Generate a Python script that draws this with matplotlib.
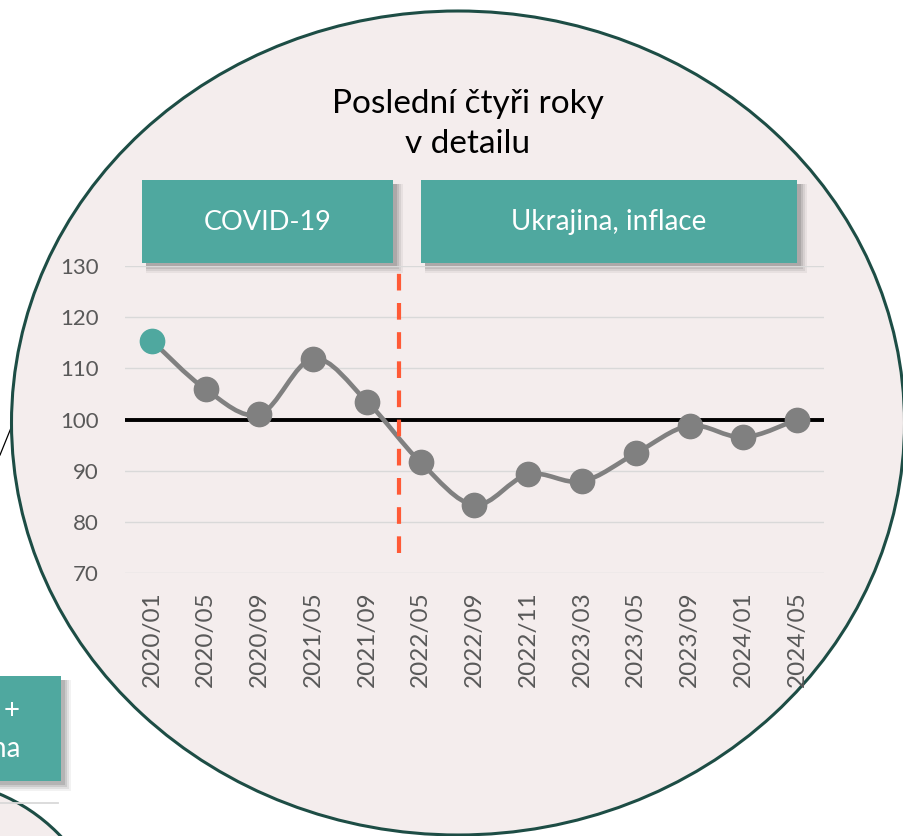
import matplotlib
matplotlib.use("Agg")
import matplotlib.pyplot as plt
from matplotlib.patches import Ellipse, Rectangle, PathPatch, Circle
from matplotlib.path import Path
import numpy as np

plt.rcParams['font.family'] = ['Lato', 'DejaVu Sans']

# ---- data ----
categories = ["2020/01", "2020/05", "2020/09", "2021/05", "2021/09", "2022/05",
              "2022/09", "2022/11", "2023/03", "2023/05", "2023/09", "2024/01", "2024/05"]
values = [115.4, 105.9, 101.0, 111.9, 103.5, 91.6, 83.3, 89.3, 87.9, 93.4, 98.8, 96.5, 100.0]
y_ticks = [70, 80, 90, 100, 110, 120, 130]
reference_level = 100
split_position = 4.6          # between 2021/09 and 2022/05
split_bottom = 74
title_text = "Poslední čtyři roky\nv detailu"
phase_labels = ["COVID-19", "Ukrajina, inflace"]

W, H = 904, 836
fig = plt.figure(figsize=(W / 100, H / 100), dpi=100)
fig.patch.set_facecolor("white")

PINK = "#F4EDED"
EDGE = "#1D4D45"
TEAL = "#4FA89F"
GRAY_TXT = "#595959"

# background axes in pixel coordinates
bg = fig.add_axes([0, 0, 1, 1])
bg.set_xlim(0, W)
bg.set_ylim(H, 0)
bg.axis("off")

# connector line (under ellipse)
bg.plot([0, 13], [455, 423], color="black", lw=0.9, zorder=1)

# small partial circle bottom-left
bg.add_patch(Circle((-70, 960), 180, facecolor=PINK, edgecolor=EDGE, lw=2.2, zorder=1))
bg.plot([0, 58], [803, 803], color="#D9D9D9", lw=1.3, zorder=2)

# main ellipse
bg.add_patch(Ellipse((458, 423), 893, 824, facecolor=PINK, edgecolor=EDGE, lw=2.2, zorder=2))


def shadow_box(x0, y0, x1, y1, z=3):
    for i, a in enumerate([0.05, 0.07, 0.09, 0.11]):
        off = 5 - i
        grow = 3 - i
        bg.add_patch(Rectangle((x0 + off - grow + 2, y0 + off - grow + 2),
                               (x1 - x0) + 2 * grow, (y1 - y0) + 2 * grow,
                               facecolor="black", edgecolor="none", alpha=a, zorder=z))
    bg.add_patch(Rectangle((x0, y0), x1 - x0, y1 - y0, facecolor=TEAL,
                           edgecolor="none", zorder=z + 0.5))


# partial teal box at left
shadow_box(-20, 676, 61, 781)
bg.text(12, 711, "+", color="white", fontsize=20, ha="center", va="center", zorder=5)
bg.text(20, 749, "na", color="white", fontsize=20, ha="right", va="center", zorder=5)

# phase boxes
shadow_box(142, 180, 393, 263)
shadow_box(421, 180, 797, 263)
bg.text((142 + 393) / 2, 222, phase_labels[0], color="white", fontsize=19.5,
        ha="center", va="center", zorder=5)
bg.text((421 + 797) / 2, 222, phase_labels[1], color="white", fontsize=20,
        ha="center", va="center", zorder=5)

# title
bg.text(468, 124, title_text, color="black", fontsize=24, ha="center", va="center",
        linespacing=1.42, zorder=5)

# ---- chart axes ----
left, right, top, bottom = 125, 824, 266, 573
ax = fig.add_axes([left / W, (H - bottom) / H, (right - left) / W, (bottom - top) / H])
ax.patch.set_alpha(0)
x = np.arange(len(categories))
ax.set_xlim(-0.5, len(categories) - 0.5)
ax.set_ylim(min(y_ticks), max(y_ticks))
for s in ax.spines.values():
    s.set_visible(False)
ax.set_yticks(y_ticks)
ax.set_xticks(x)
ax.set_xticklabels(categories, rotation=90, va="top", ha="center")
ax.tick_params(axis="both", length=0, colors=GRAY_TXT)
ax.tick_params(axis="y", pad=19, labelsize=16)
ax.tick_params(axis="x", pad=13, labelsize=17.5)
ax.grid(axis="y", color="#D9D9D9", lw=1.0, zorder=0)
ax.set_axisbelow(True)

ax.axhline(reference_level, color="black", lw=2.8, zorder=2)

# smoothed line (Excel-style Bezier)
pts = np.column_stack([x, values]).astype(float)
verts = [tuple(pts[0])]
codes = [Path.MOVETO]
n = len(pts)
for i in range(n - 1):
    p0 = pts[max(i - 1, 0)]
    p1 = pts[i]
    p2 = pts[i + 1]
    p3 = pts[min(i + 2, n - 1)]
    c1 = p1 + (p2 - p0) / 6.0
    c2 = p2 - (p3 - p1) / 6.0
    verts += [tuple(c1), tuple(c2), tuple(p2)]
    codes += [Path.CURVE4] * 3
ax.add_patch(PathPatch(Path(verts, codes), facecolor="none", edgecolor="#808080",
                       lw=3.3, zorder=3, capstyle="round"))
ax.plot(x[1:], values[1:], "o", color="#808080", markersize=17.5, zorder=4)
ax.plot(x[:1], values[:1], "o", color=TEAL, markersize=17.5, zorder=4)

# split dashed line
ax.plot([split_position, split_position], [split_bottom, max(y_ticks)],
        color="#FF5A36", lw=3, dashes=(4, 3), zorder=5, clip_on=False)

fig.savefig("out.png", dpi=100, facecolor="white")
